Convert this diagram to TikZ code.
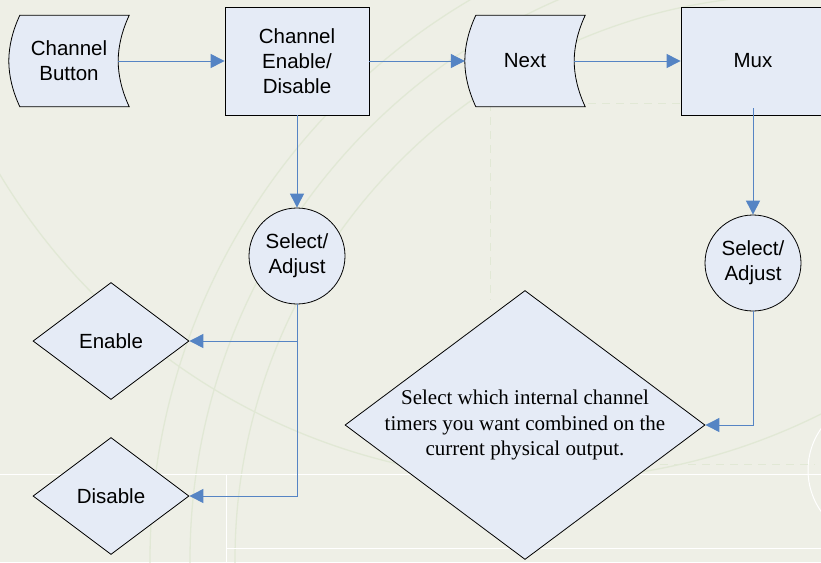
\documentclass[tikz,border=0pt]{standalone}
\usepackage{fontspec}
\setmainfont{Liberation Sans}
\newfontfamily\serifface{Liberation Serif}
\usetikzlibrary{arrows.meta,shapes.geometric}
\definecolor{bgc}{HTML}{EEEFE6}
\definecolor{boxfill}{HTML}{E5EBF6}
\definecolor{arrc}{HTML}{5584C4}
\definecolor{decoc}{HTML}{E1E8D5}
\tikzset{
  x=1pt, y=-1pt,
  txt/.style={font=\fontsize{20.5}{25}\selectfont, align=center},
  tapebox/.style={txt, minimum width=120pt, minimum height=91pt, inner sep=0pt},
  rectbox/.style={txt, draw=black, line width=0.8pt, fill=boxfill, minimum width=144pt, minimum height=108pt, inner sep=0pt},
  circbox/.style={txt, circle, draw=black, line width=0.8pt, fill=boxfill, minimum size=96pt, inner sep=0pt},
  diabox/.style={txt, diamond, draw=black, line width=0.8pt, fill=boxfill, inner sep=0pt},
  arr/.style={draw=arrc, line width=1pt, -{Triangle[length=14pt,width=14pt]}},
  deco/.style={draw=decoc, line width=1.3pt},
}
\newcommand{\tapeshape}[1]{%
  \filldraw[fill=boxfill, draw=black, line width=0.8pt]
    ([xshift=11pt]#1.north west) -- (#1.north east)
    .. controls ([xshift=-7pt,yshift=-15pt]#1.north east) and ([xshift=-11pt,yshift=15pt]#1.east) .. ([xshift=-11pt]#1.east)
    .. controls ([xshift=-11pt,yshift=-15pt]#1.east) and ([xshift=-7pt,yshift=15pt]#1.south east) .. (#1.south east)
    -- ([xshift=11pt]#1.south west)
    .. controls ([xshift=4pt,yshift=15pt]#1.south west) and ([yshift=-15pt]#1.west) .. (#1.west)
    .. controls ([yshift=15pt]#1.west) and ([xshift=4pt,yshift=-15pt]#1.north west) .. ([xshift=11pt]#1.north west) -- cycle;}
\begin{document}
\begin{tikzpicture}
\useasboundingbox (0,0) rectangle (821,562);
\fill[bgc] (0,0) rectangle (821,562);
% background decoration
\begin{scope}
\clip (0,0) rectangle (821,562);
\draw[deco] (800,560) circle[radius=650];
\draw[deco] (800,560) circle[radius=610];
\draw[deco] (800,560) circle[radius=565];
\draw[deco] (540,-150) circle[radius=630];
\draw[white, line width=1pt] (0,474) -- (821,474);
\draw[white, line width=1pt] (226,474) -- (226,562);
\draw[white, line width=1pt] (226,548) -- (821,548);
\draw[white, line width=1pt] (880,470) circle[radius=72];
\draw[decoc, line width=1pt, dashed, dash pattern=on 8pt off 6pt] (490,103) -- (681,103);
\draw[decoc, line width=1pt, dashed, dash pattern=on 8pt off 6pt] (490,103) -- (490,300);
\draw[decoc, line width=1pt, dashed, dash pattern=on 8pt off 6pt] (660,464) -- (815,464);
\end{scope}
% nodes
\node[tapebox] (btn) at (69,61) {};
\tapeshape{btn}
\node[txt] at (btn) {Channel\\Button};
\node[rectbox] (ced) at (297,61) {Channel\\Enable/\\Disable};
\node[tapebox] (nxt) at (525,61) {};
\tapeshape{nxt}
\node[txt] at (nxt) {Next};
\node[rectbox] (mux) at (753,61) {Mux};
\node[circbox] (sa1) at (297,256) {Select/\\Adjust};
\node[circbox] (sa2) at (753,263) {Select/\\Adjust};
\node[diabox, minimum width=156pt, minimum height=117pt] (en) at (111,341) {Enable};
\node[diabox, minimum width=156pt, minimum height=117pt] (dis) at (111,496) {Disable};
\node[diabox, minimum width=360pt, minimum height=269pt,
  label={[align=center, font=\serifface\fontsize{21}{25.5}\selectfont]center:Select which internal channel\\timers you want combined on the\\current physical output.}] (bigd) at (525,425) {};
% connectors
\draw[arr] ([xshift=-11pt]btn.east) -- (ced.west);
\draw[arr] (ced.east) -- (nxt.west);
\draw[arr] ([xshift=-11pt]nxt.east) -- (mux.west);
\draw[arr] (ced.south) -- (sa1.north);
\draw[arr] ([yshift=7pt]mux.south) -- (sa2.north);
\draw[arr] (sa1.south) |- (en.east);
\draw[arr] (sa1.south) |- (dis.east);
\draw[arr] (sa2.south) |- (bigd.east);
\end{tikzpicture}
\end{document}
